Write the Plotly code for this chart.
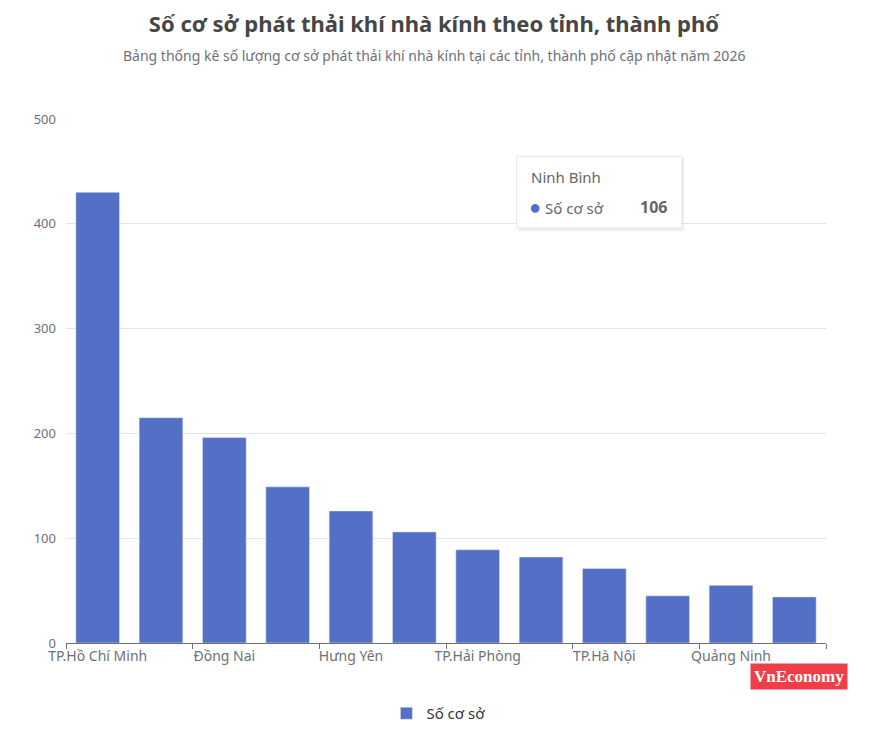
import plotly.graph_objects as go

# du lieu doc tu bieu do (12 tinh, thanh pho)
provinces = ['TP.Hồ Chí Minh', 'Bắc Ninh', 'Đồng Nai', 'Tây Ninh', 'Hưng Yên', 'Ninh Bình',
             'TP.Hải Phòng', 'Thái Nguyên', 'TP.Hà Nội', 'Phú Thọ', 'Quảng Ninh', 'Thanh Hóa']
so_co_so = [430, 215, 196, 149, 126, 106, 89, 82, 71, 45, 55, 44]
y_ticks = [0, 100, 200, 300, 400, 500]

series_name = 'Số cơ sở'
hover_idx = provinces.index('Ninh Bình')

fig = go.Figure()
fig.add_trace(go.Bar(
    x=provinces,
    y=so_co_so,
    name=series_name,
    marker=dict(color='#5470c6'),
    showlegend=True,
))

# trang co le 8px nen bot kich thuoc hinh
fig.update_layout(
    width=857, height=722,
    margin=dict(l=58, r=39, t=111, b=87, autoexpand=False),
    paper_bgcolor='white',
    plot_bgcolor='white',
    font=dict(family='Noto Sans', color='#6e7079', size=12),
    bargap=0.31,
    title=dict(
        text='<b>Số cơ sở phát thải khí nhà kính theo tỉnh, thành phố</b>',
        x=0.497, xanchor='center', y=0.978, yanchor='middle',
        font=dict(size=22, color='#464646', family='Noto Sans'),
    ),
    legend=dict(
        orientation='h', x=0.49, xanchor='center',
        yref='container', y=0.0, yanchor='bottom',
        font=dict(size=15, color='#333333'),
    ),
    xaxis=dict(
        type='category',
        tickmode='linear', tick0=0, dtick=2,
        tickson='boundaries',
        ticks='outside', ticklen=5, tickcolor='#6e7079',
        showline=True, linecolor='#6e7079', linewidth=1,
        showgrid=False,
        tickfont=dict(size=14, color='#6e7079'),
        tickangle=0,
    ),
    yaxis=dict(
        range=[0, 500],
        tickvals=y_ticks,
        showgrid=True, gridcolor='#e0e6f1',
        zeroline=False, showline=False,
        ticks='', ticklabelstandoff=9,
        tickfont=dict(size=13, color='#6e7079'),
    ),
)

# phu de
fig.add_annotation(
    text='Bảng thống kê số lượng cơ sở phát thải khí nhà kính tại các tỉnh, thành phố cập nhật năm 2026',
    xref='paper', yref='paper', x=0.484, y=1.122, xanchor='center', yanchor='middle',
    showarrow=False, font=dict(size=14, color='#6e7079'),
)

# hop tooltip Ninh Binh (bong mo + khung)
fig.add_shape(type='rect', xref='paper', yref='paper',
              x0=0.595, x1=0.8135, y0=0.786, y1=0.927,
              line=dict(width=0), fillcolor='rgba(0,0,0,0.06)', layer='above')
fig.add_shape(type='rect', xref='paper', yref='paper',
              x0=0.593, x1=0.8105, y0=0.792, y1=0.929,
              line=dict(color='#e6e6e6', width=1), fillcolor='white', layer='above')
fig.add_annotation(
    text=provinces[hover_idx],
    xref='paper', yref='paper', x=0.609, y=0.889, xanchor='left', yanchor='middle',
    showarrow=False, font=dict(size=15, color='#666666'),
)
fig.add_annotation(
    text='<span style="color:#5470c6;font-size:20px">●</span> ' + series_name,
    xref='paper', yref='paper', x=0.607, y=0.833, xanchor='left', yanchor='middle',
    showarrow=False, font=dict(size=15, color='#666666'),
)
fig.add_annotation(
    text='<b>' + str(so_co_so[hover_idx]) + '</b>',
    xref='paper', yref='paper', x=0.794, y=0.833, xanchor='right', yanchor='middle',
    showarrow=False, font=dict(size=16, color='#666666'),
)

# logo VnEconomy
fig.add_annotation(
    text='<b>VnEconomy</b>',
    xref='paper', yref='paper', x=1.029, y=-0.064, xanchor='right', yanchor='middle',
    showarrow=False,
    font=dict(size=17, color='white', family='Liberation Serif'),
    bgcolor='#ee3e48', borderpad=3,
)

fig.write_html('out.html')
